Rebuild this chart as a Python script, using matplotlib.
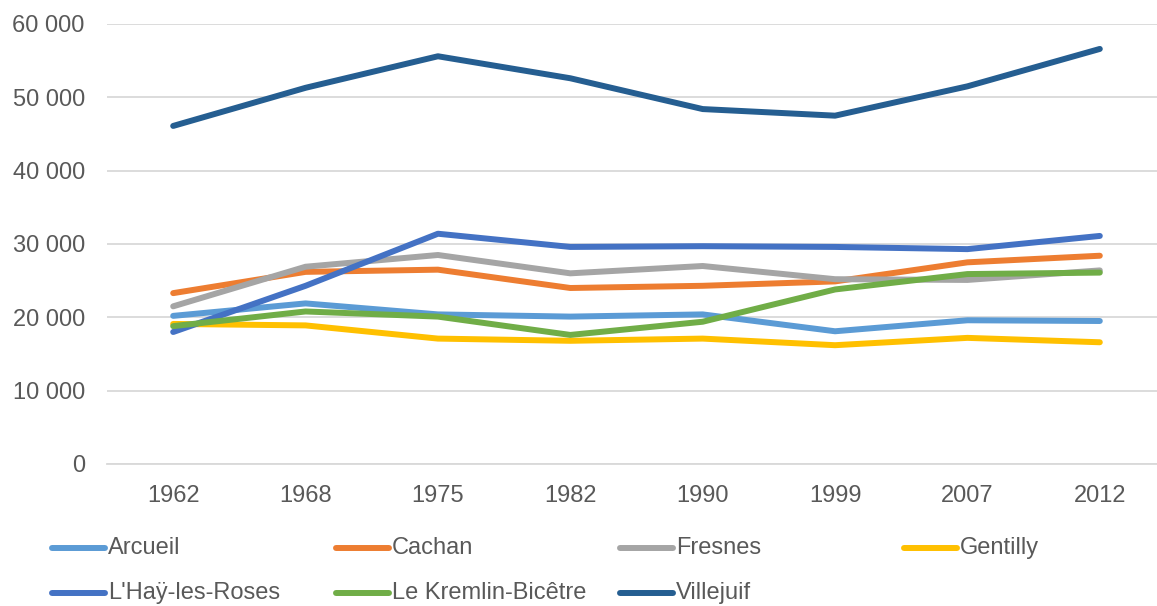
import matplotlib
matplotlib.use("Agg")
import matplotlib.pyplot as plt
from matplotlib.lines import Line2D
from matplotlib.ticker import FuncFormatter

plt.rcParams['font.family'] = ['Liberation Sans', 'DejaVu Sans']

years = ["1962", "1968", "1975", "1982", "1990", "1999", "2007", "2012"]
names = ["Arcueil", "Cachan", "Fresnes", "Gentilly", "L'Haÿ-les-Roses",
         "Le Kremlin-Bicêtre", "Villejuif"]
arcueil = [20200, 21900, 20400, 20100, 20400, 18100, 19600, 19500]
cachan = [23300, 26200, 26500, 24000, 24300, 24900, 27500, 28400]
fresnes = [21500, 26900, 28500, 26000, 27000, 25200, 25100, 26400]
gentilly = [19100, 18900, 17100, 16800, 17100, 16200, 17200, 16600]
lhay = [18000, 24300, 31400, 29600, 29700, 29600, 29300, 31100]
kremlin = [18800, 20800, 20100, 17600, 19400, 23800, 25900, 26100]
villejuif = [46100, 51300, 55600, 52600, 48400, 47500, 51500, 56600]
series = [arcueil, cachan, fresnes, gentilly, lhay, kremlin, villejuif]
colors = ["#5B9BD5", "#ED7D31", "#A5A5A5", "#FFC000", "#4472C4",
          "#70AD47", "#255E91"]

W, H = 1157, 606
fig = plt.figure(figsize=(W / 100, H / 100), dpi=100)
ax = fig.add_axes([107 / W, 1 - 464 / H, (1166 - 107) / W, (464 - 24) / H])

x = list(range(len(years)))
for vals, c, n in zip(series, colors, names):
    ax.plot(x, vals, color=c, lw=4.3, solid_capstyle='round',
            solid_joinstyle='round', label=n)

ax.set_xlim(-0.5, len(years) - 0.5)
ax.set_ylim(0, 60000)
ax.set_yticks(range(0, 60001, 10000))
ax.yaxis.set_major_formatter(FuncFormatter(lambda v, p: f"{int(v):,}".replace(",", " ")))
ax.set_xticks(x)
ax.set_xticklabels(years)
ax.grid(axis='y', color='#D9D9D9', lw=1.3)
ax.set_axisbelow(True)
for s in ['top', 'right', 'left']:
    ax.spines[s].set_visible(False)
ax.spines['bottom'].set_color('#D9D9D9')
ax.spines['bottom'].set_linewidth(1.3)
ax.tick_params(length=0, labelsize=17, labelcolor='#595959')
ax.tick_params(axis='y', pad=16)
ax.tick_params(axis='x', pad=15)

# legend
col_x = [52, 336, 620, 904]
row_y = [548, 593]
for i, (n, c) in enumerate(zip(names, colors)):
    cx = col_x[i % 4]
    cy = row_y[i // 4]
    fig.add_artist(Line2D([cx / W, (cx + 53) / W], [1 - cy / H, 1 - cy / H],
                          transform=fig.transFigure, color=c, lw=4.3,
                          solid_capstyle='round'))
    fig.text((cx + 56) / W, 1 - cy / H, n, fontsize=17, color='#595959',
             va='center', ha='left')

fig.savefig("out.png", dpi=100)
